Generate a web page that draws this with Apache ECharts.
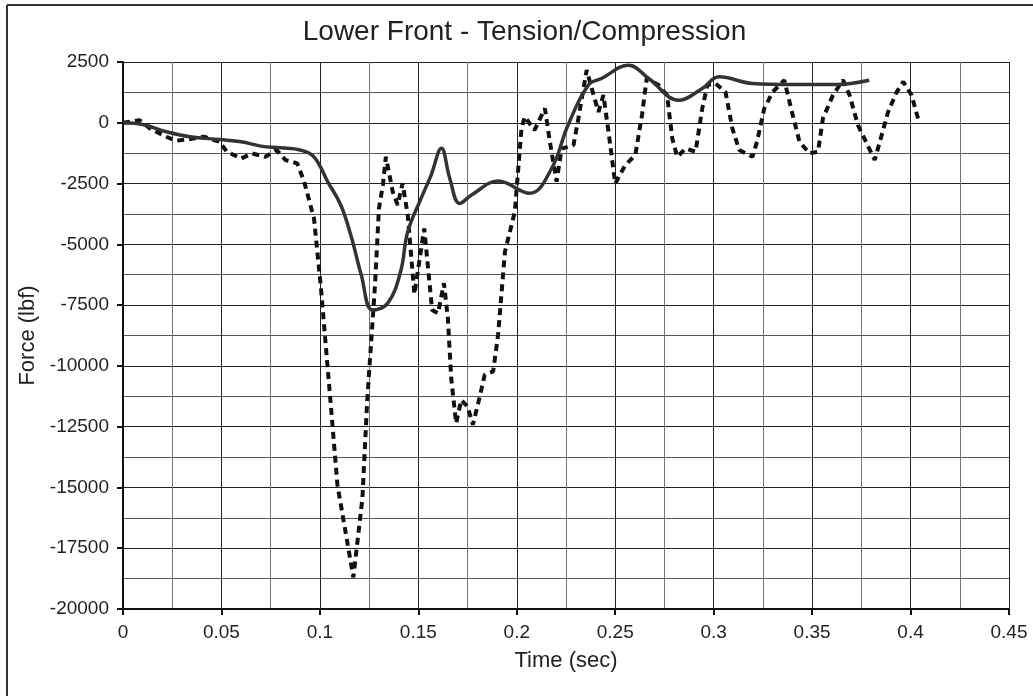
<!DOCTYPE html>
<html>
<head>
<meta charset="utf-8">
<script src="https://cdn.jsdelivr.net/npm/echarts@6/dist/echarts.min.js"></script>
<style>
html,body{margin:0;padding:0;background:#fff;}
#chart{width:1033px;height:696px;}
</style>
</head>
<body>
<div id="chart"></div>
<script>
const chartTitle = 'Lower Front - Tension/Compression';
const xAxisName = 'Time (sec)';
const yAxisName = 'Force (lbf)';

const solidTime = [0, 0.010, 0.022, 0.034, 0.049, 0.060, 0.070, 0.080, 0.090, 0.097, 0.104, 0.1106, 0.1157, 0.121, 0.1267, 0.1344, 0.141, 0.1446, 0.1514, 0.1565, 0.1617, 0.166, 0.171, 0.177, 0.1905, 0.2066, 0.2177, 0.226, 0.2364, 0.243, 0.2568, 0.267, 0.2823, 0.2942, 0.3028, 0.3197, 0.340, 0.362, 0.379];
const solidForce = [0, -70, -370, -575, -690, -780, -960, -1030, -1120, -1400, -2430, -3380, -4620, -6250, -7700, -7430, -6120, -4480, -3110, -2150, -1050, -2300, -3320, -2970, -2400, -2900, -1880, -100, 1550, 1820, 2370, 1820, 930, 1410, 1890, 1615, 1575, 1575, 1750];

const dashTime = [0, 0.0085, 0.0136, 0.022, 0.027, 0.034, 0.041, 0.049, 0.0527, 0.060, 0.0655, 0.0723, 0.078, 0.0825, 0.0885, 0.092, 0.097, 0.1004, 0.1054, 0.1089, 0.117, 0.1216, 0.124, 0.128, 0.130, 0.132, 0.1335, 0.135, 0.137, 0.1395, 0.142, 0.1446, 0.148, 0.153, 0.157, 0.160, 0.163, 0.165, 0.1667, 0.1692, 0.1718, 0.175, 0.1777, 0.181, 0.1837, 0.188, 0.1905, 0.194, 0.199, 0.2024, 0.204, 0.209, 0.2143, 0.2168, 0.2202, 0.2228, 0.2288, 0.2313, 0.2355, 0.239, 0.2415, 0.244, 0.2466, 0.250, 0.2551, 0.2602, 0.2636, 0.266, 0.272, 0.2763, 0.279, 0.2815, 0.2857, 0.2908, 0.2942, 0.2968, 0.301, 0.306, 0.3095, 0.313, 0.3197, 0.322, 0.3257, 0.330, 0.3359, 0.3393, 0.3436, 0.3487, 0.353, 0.3555, 0.3606, 0.3657, 0.369, 0.3733, 0.379, 0.3818, 0.3844, 0.3886, 0.393, 0.3963, 0.4005, 0.404];
const dashForce = [0, 100, -230, -575, -740, -670, -575, -780, -1190, -1470, -1260, -1400, -1120, -1530, -1670, -2420, -3930, -6670, -11470, -14890, -18700, -15440, -11470, -6670, -3520, -2560, -1400, -2010, -2840, -3380, -2490, -3790, -7050, -4350, -7700, -7840, -6600, -8040, -10510, -12360, -11400, -11670, -12420, -11330, -10370, -10230, -8730, -5300, -3660, -230, 250, -300, 590, -780, -2420, -1060, -920, 180, 2170, 1140, 450, 1140, -370, -2500, -1740, -1330, 320, 1820, 1550, 1140, -650, -1400, -1060, -1190, 590, 1550, 1615, 1270, -230, -1120, -1400, -780, 590, 1270, 1755, 590, -780, -1260, -1190, 180, 1140, 1755, 1140, -100, -1060, -1530, -780, 450, 1270, 1690, 1140, 110];

const xTicks = { min: 0, max: 0.45, interval: 0.05 };
const yTicks = { min: -20000, max: 2500, interval: 2500 };

const FONT = '"Liberation Sans", Arial, sans-serif';

const chart = echarts.init(document.getElementById('chart'), null, { renderer: 'canvas' });
chart.setOption({
  backgroundColor: '#ffffff',
  animation: false,
  grid: { left: 123, right: 24, top: 62, bottom: 87, containLabel: false },
  graphic: [
    { type: 'line', shape: { x1: 7, y1: 5, x2: 1033, y2: 5 }, style: { stroke: '#333', lineWidth: 2 } },
    { type: 'line', shape: { x1: 7, y1: 5, x2: 7, y2: 696 }, style: { stroke: '#333', lineWidth: 2 } },
    { type: 'text', x: 524.5, y: 32, style: { text: chartTitle, font: '28px ' + FONT, fill: '#222', textAlign: 'center', textVerticalAlign: 'middle' } }
  ],
  xAxis: {
    type: 'value', min: xTicks.min, max: xTicks.max, interval: xTicks.interval,
    name: xAxisName, nameLocation: 'middle', nameGap: 41,
    nameTextStyle: { fontFamily: FONT, fontSize: 22, color: '#222' },
    axisLine: { show: true, onZero: false, lineStyle: { color: '#111', width: 2 } },
    axisTick: { show: true, inside: false, length: 6, lineStyle: { color: '#111', width: 2 } },
    axisLabel: { margin: 14, fontFamily: FONT, fontSize: 19, color: '#222', formatter: v => String(+v.toFixed(3)) },
    splitLine: { show: true, lineStyle: { color: '#222', width: 1 } },
    minorTick: { show: false, splitNumber: 2 },
    minorSplitLine: { show: true, lineStyle: { color: '#777', width: 1 } }
  },
  yAxis: {
    type: 'value', min: yTicks.min, max: yTicks.max, interval: yTicks.interval,
    name: yAxisName, nameLocation: 'middle', nameGap: 79, nameRotate: 90,
    nameTextStyle: { fontFamily: FONT, fontSize: 22, color: '#222' },
    axisLine: { show: true, onZero: false, lineStyle: { color: '#111', width: 2 } },
    axisTick: { show: true, inside: false, length: 6, lineStyle: { color: '#111', width: 2 } },
    axisLabel: { margin: 14, fontFamily: FONT, fontSize: 19, color: '#222', formatter: v => String(v) },
    splitLine: { show: true, lineStyle: { color: '#222', width: 1 } },
    minorTick: { show: false, splitNumber: 2 },
    minorSplitLine: { show: true, lineStyle: { color: '#555', width: 1 } }
  },
  series: [
    {
      name: 'Dashed', type: 'line', showSymbol: false, symbol: 'none', smooth: false,
      data: dashTime.map((t, i) => [t, dashForce[i]]),
      lineStyle: { color: '#111', width: 4, type: [7, 5] },
      z: 3
    },
    {
      name: 'Solid', type: 'line', showSymbol: false, symbol: 'none', smooth: 0.4,
      data: solidTime.map((t, i) => [t, solidForce[i]]),
      lineStyle: { color: '#333', width: 3.5 },
      z: 4
    }
  ]
});
</script>
</body>
</html>
